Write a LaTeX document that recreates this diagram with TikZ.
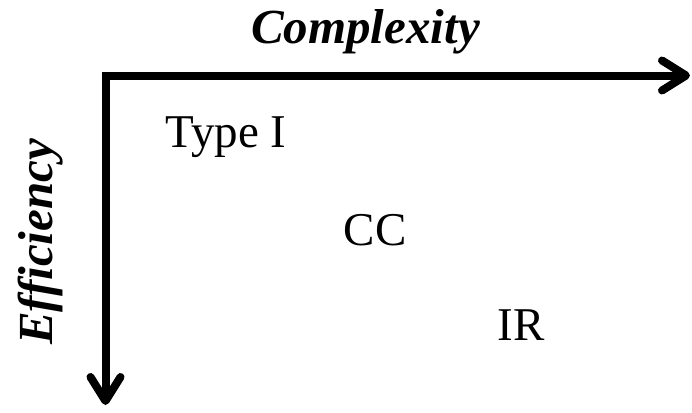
\documentclass[tikz,border=0pt]{standalone}
\usepackage{fontspec}
\setmainfont{Liberation Serif}
\usetikzlibrary{arrows.meta}
\begin{document}
\begin{tikzpicture}[x=1pt,y=-1pt,
  axis/.style={line width=8pt,
    -{Straight Barb[length=24pt,width=30pt,line width=8pt,line cap=round,line join=round]}},
  axislabel/.style={font=\fontsize{49}{58}\selectfont\bfseries\itshape, anchor=base, inner sep=0pt},
  item/.style={font=\fontsize{47}{56}\selectfont, anchor=base, inner sep=0pt}]
  \useasboundingbox (0,0) rectangle (692,412);
  % axes meeting at the top-left corner
  \coordinate (o) at (105.5,75.5);
  \coordinate (xend) at (690,75.5);
  \coordinate (yend) at (105.5,405);
  \draw[axis] ([xshift=-4pt]o) -- (xend);
  \draw[axis] ([yshift=3.5pt]o) -- (yend);
  % axis titles
  \node[axislabel] (cx) at (365.5,44) {Complexity};
  \node[axislabel, rotate=90] (ef) at (52.5,242) {Efficiency};
  % methods
  \node[item] (t1) at (226,147) {Type I};
  \node[item] (cc) at (375,245) {CC};
  \node[item] (ir) at (521,340) {IR};
\end{tikzpicture}
\end{document}
